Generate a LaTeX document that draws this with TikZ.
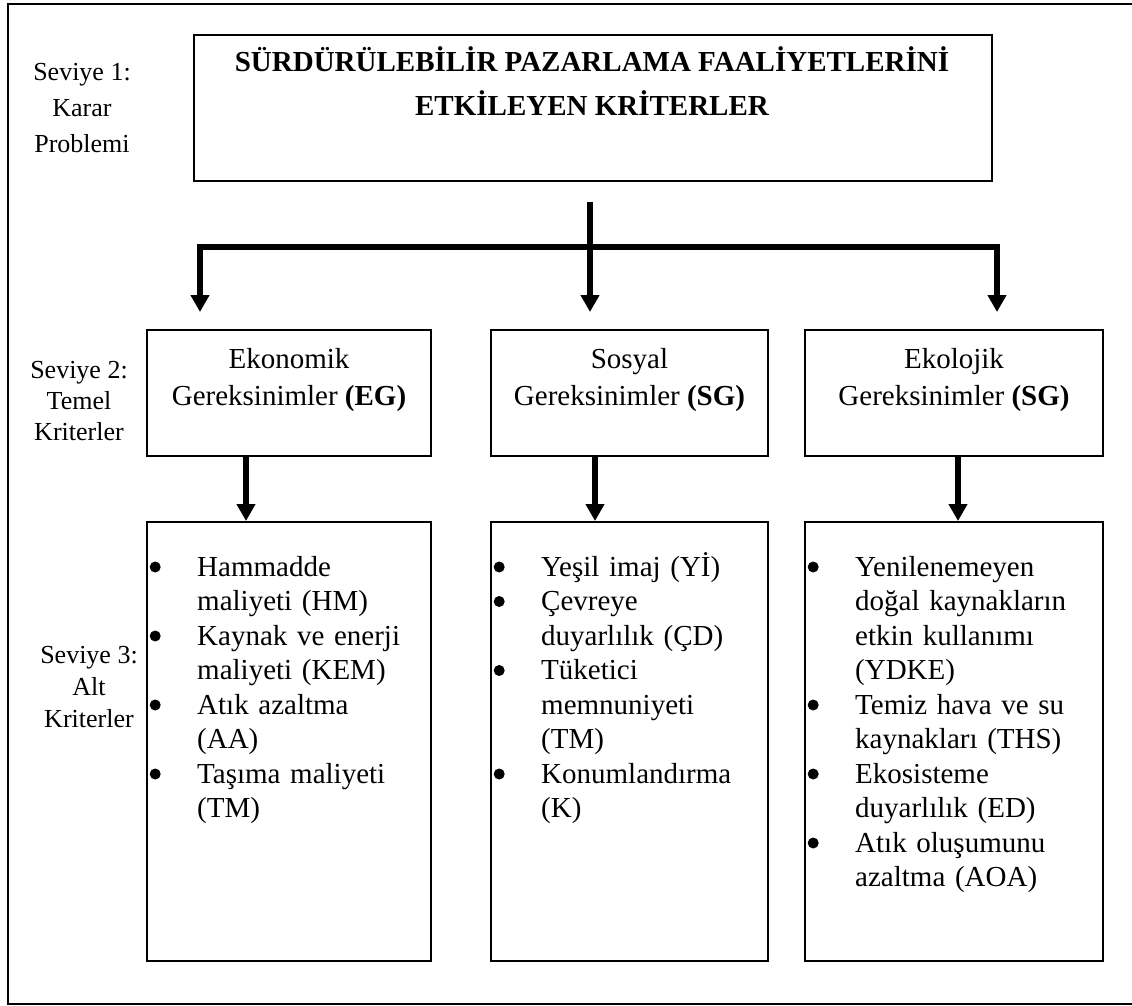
\documentclass[tikz,border=0pt]{standalone}
\usepackage{fontspec}
\setmainfont{Liberation Serif}
\usetikzlibrary{arrows.meta}
% a round list bullet, centred 9pt above the baseline
\newcommand\listdot{\tikz[baseline=0pt]{\path (0pt,0pt) -- (11pt,0pt); \fill (5.5pt,9pt) circle[radius=5.5pt];}}
% line break inside an item
\newcommand\nl{\hfil\break}
% one bulleted item with a hanging indent
\newcommand\bitem[1]{\noindent\hangindent=51pt\hangafter=1\makebox[51pt][l]{\hspace{3.5pt}\listdot}#1\par}
\begin{document}
\begin{tikzpicture}[x=1pt,y=-1pt,
  frameline/.style={line width=2.5pt},
  boxst/.style={draw, line width=2pt, inner sep=0pt, anchor=north west},
  heavy/.style={line width=6pt, line join=miter},
  tipend/.style={-{Triangle[width=18pt,length=17pt]}},
  lvl/.style={align=center, anchor=base, inner sep=0pt},
  headtext/.style={anchor=base, align=center, inner sep=0pt, font=\fontsize{29pt}{37pt}\selectfont},
  listtext/.style={anchor=base west, inner sep=0pt, align=left, font=\fontsize{29pt}{34.5pt}\selectfont},
]
\useasboundingbox (0,0) rectangle (1132,1006);
\clip (0,0) rectangle (1132,1006);
\draw[frameline] (8,4) rectangle (1140,1004);

% level captions on the left (anchored at the baseline of their last line)
\node[lvl, font=\fontsize{26pt}{36pt}\selectfont] (l1) at (82,153) {Seviye 1:\\Karar\\Problemi};
\node[lvl, font=\fontsize{26pt}{31pt}\selectfont] (l2) at (79,440) {Seviye 2:\\Temel\\Kriterler};
\node[lvl, font=\fontsize{26pt}{32pt}\selectfont] (l3) at (89,727) {Seviye 3:\\Alt\\Kriterler};

% level 1: decision problem
\node[boxst, minimum width=798pt, minimum height=146pt] (top) at (193,34) {};
\node[anchor=base, align=center, inner sep=0pt, font=\bfseries\fontsize{29pt}{44pt}\selectfont] (title) at (592,116)
  {SÜRDÜRÜLEBİLİR PAZARLAMA FAALİYETLERİNİ\\ETKİLEYEN KRİTERLER};

% level 2: main criteria
\node[boxst, minimum width=284pt, minimum height=126pt] (m1) at (146,329) {};
\node[boxst, minimum width=277pt, minimum height=126pt] (m2) at (490,329) {};
\node[boxst, minimum width=298pt, minimum height=126pt] (m3) at (804,329) {};
\node[headtext] (m1t) at ([yshift=-76pt]m1.north) {Ekonomik\\Gereksinimler \textbf{(EG)}};
\node[headtext] (m2t) at ([yshift=-76pt]m2.north) {Sosyal\\Gereksinimler \textbf{(SG)}};
\node[headtext] (m3t) at ([yshift=-76pt]m3.north) {Ekolojik\\Gereksinimler \textbf{(SG)}};

% level 3: sub-criteria
\node[boxst, minimum width=284pt, minimum height=439pt] (b1) at (146,521) {};
\node[boxst, minimum width=277pt, minimum height=439pt] (b2) at (490,521) {};
\node[boxst, minimum width=298pt, minimum height=439pt] (b3) at (804,521) {};

\node[listtext, text width=276pt] (b1t) at ([yshift=-55pt]b1.north west) {%
  \bitem{Hammadde\nl maliyeti (HM)}%
  \bitem{Kaynak ve enerji\nl maliyeti (KEM)}%
  \bitem{Atık azaltma\nl (AA)}%
  \bitem{Taşıma maliyeti\nl (TM)}};
\node[listtext, text width=270pt] (b2t) at ([yshift=-55pt]b2.north west) {%
  \bitem{Yeşil imaj (Yİ)}%
  \bitem{Çevreye\nl duyarlılık (ÇD)}%
  \bitem{Tüketici\nl memnuniyeti\nl (TM)}%
  \bitem{Konumlandırma\nl (K)}};
\node[listtext, text width=290pt] (b3t) at ([yshift=-55pt]b3.north west) {%
  \bitem{Yenilenemeyen\nl doğal kaynakların\nl etkin kullanımı\nl (YDKE)}%
  \bitem{Temiz hava ve su\nl kaynakları (THS)}%
  \bitem{Ekosisteme\nl duyarlılık (ED)}%
  \bitem{Atık oluşumunu\nl azaltma (AOA)}};

% connectors
\coordinate (trunk) at (590,202);
\coordinate (barL) at (200,247);
\coordinate (barR) at (997,247);
\draw[heavy, {Triangle[width=18pt,length=17pt]}-{Triangle[width=18pt,length=17pt]},
      shorten <=17pt, shorten >=17pt]
  (barL |- m1.north) -- (barL) -- (barR) -- (barR |- m3.north);
\draw[heavy, tipend, shorten >=17pt] (trunk) -- (trunk |- m2.north);

\draw[heavy, tipend] ([xshift=-43pt]m1.south) -- ([xshift=-43pt]m1.south |- b1.north);
\draw[heavy, tipend] ([xshift=-34.5pt]m2.south) -- ([xshift=-34.5pt]m2.south |- b2.north);
\draw[heavy, tipend] ([xshift=4pt]m3.south) -- ([xshift=4pt]m3.south |- b3.north);
\end{tikzpicture}
\end{document}
